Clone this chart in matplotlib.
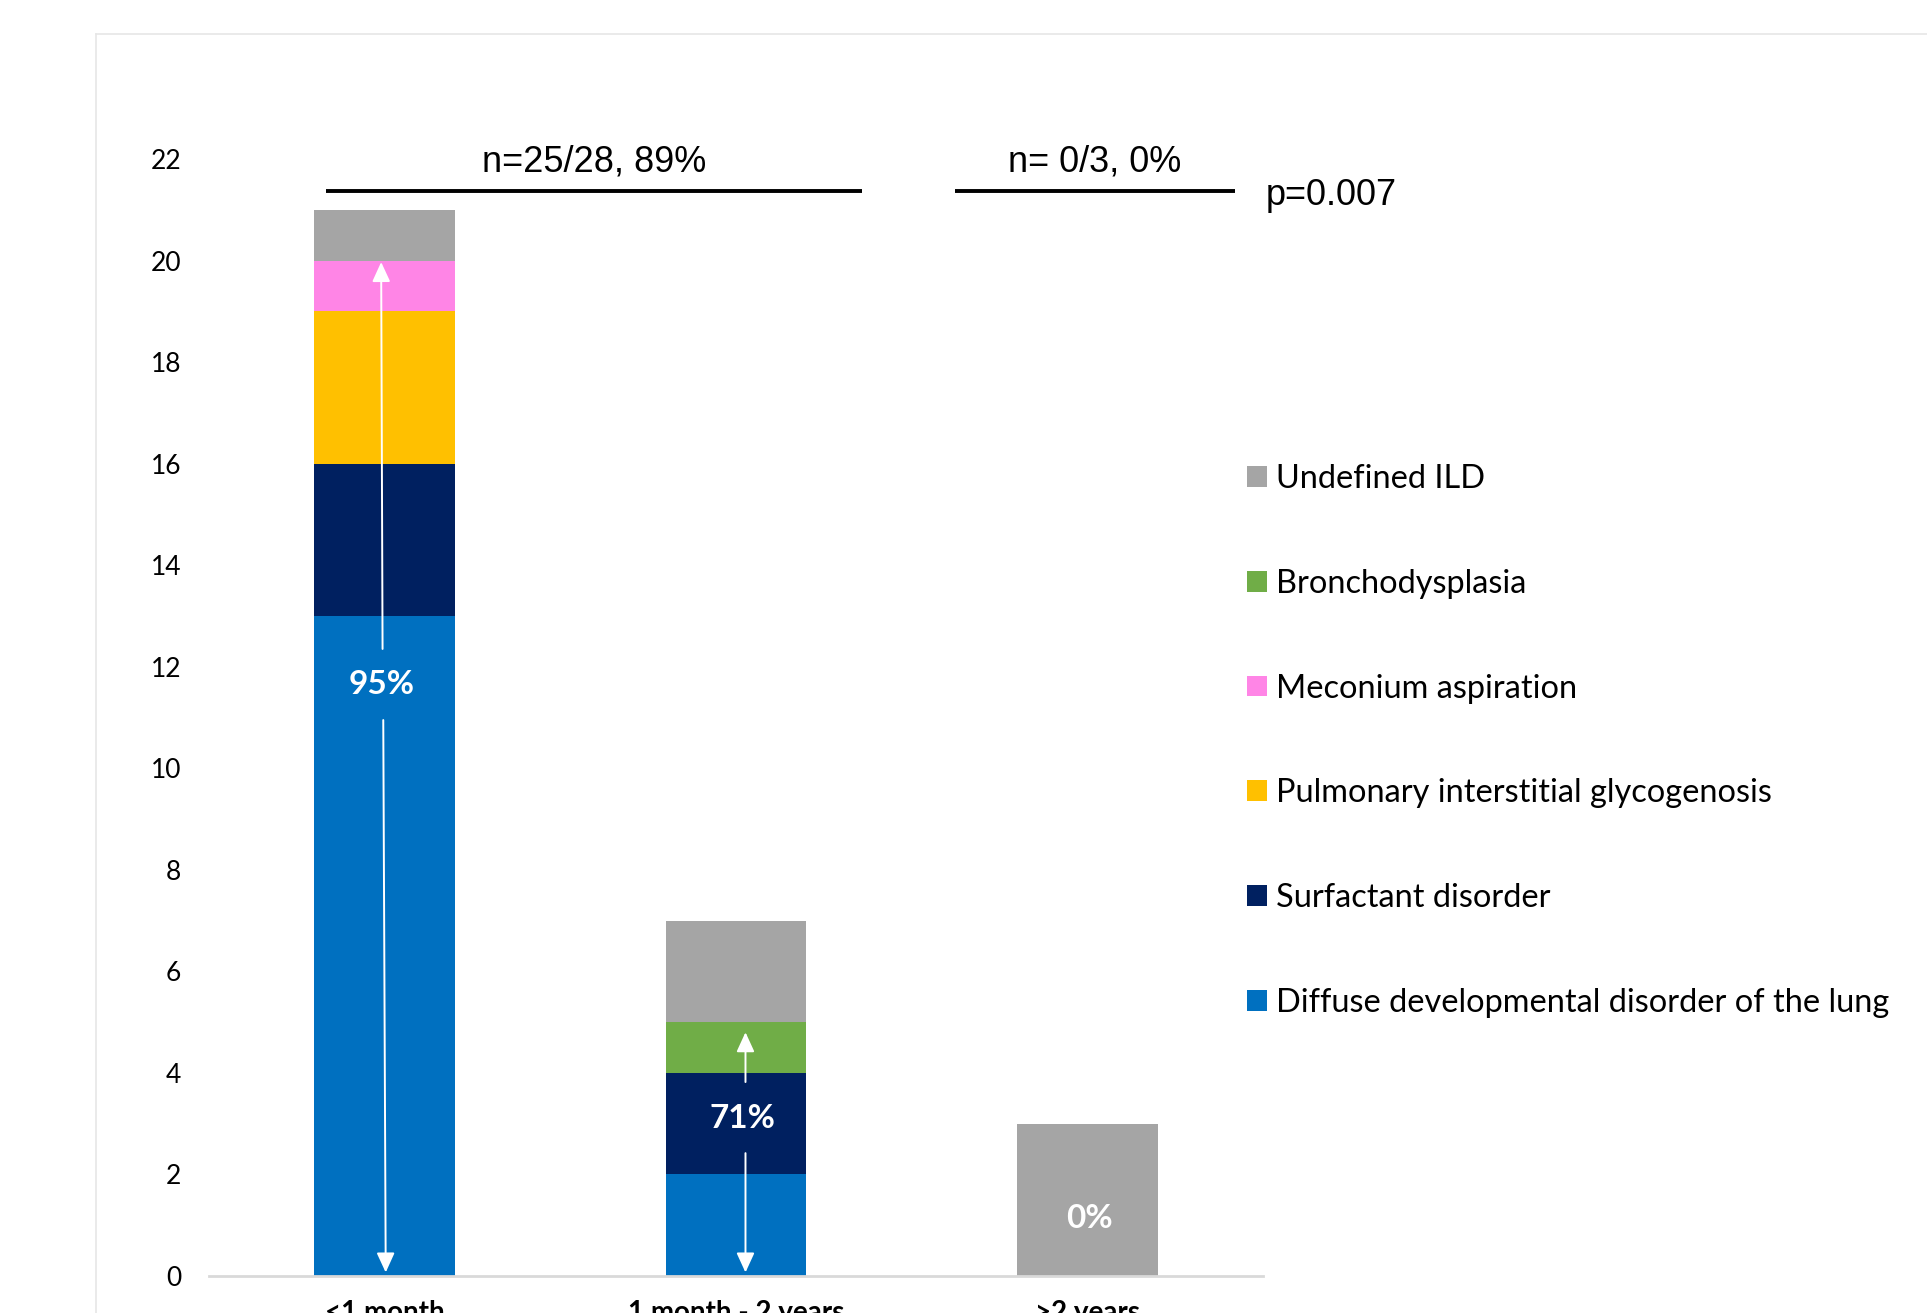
import matplotlib
matplotlib.use("Agg")
import matplotlib.pyplot as plt
from matplotlib.patches import Patch
from matplotlib.lines import Line2D
import numpy as np

categories = ["<1 month", "1 month - 2 years", ">2 years"]
series_names = ["Diffuse developmental disorder of the lung", "Surfactant disorder",
                "Pulmonary interstitial glycogenosis", "Meconium aspiration",
                "Bronchodysplasia", "Undefined ILD"]
ddd = [13, 2, 0]
surfactant = [3, 2, 0]
pig = [3, 0, 0]
meconium = [1, 0, 0]
broncho = [0, 1, 0]
undefined = [1, 2, 3]
colors = ["#0070C0", "#002060", "#FFC000", "#FF85E6", "#70AD47", "#A5A5A5"]
yticks = list(range(0, 23, 2))
bar_pct = ["95%", "71%", "0%"]
group_labels = ["n=25/28, 89%", "n= 0/3, 0%"]
p_label = "p=0.007"

fig = plt.figure(figsize=(19.27, 13.13), dpi=100)
# panel border
fig.add_artist(Line2D([96/1927, 96/1927], [0, 1 - 34/1313], transform=fig.transFigure, color="#e6e6e6", lw=1.2))
fig.add_artist(Line2D([96/1927, 1], [1 - 34/1313, 1 - 34/1313], transform=fig.transFigure, color="#e6e6e6", lw=1.2))

ax = fig.add_axes([209/1927, 37/1313, (1263-209)/1927, (1276-159)/1313])
x = np.arange(len(categories))
data = [ddd, surfactant, pig, meconium, broncho, undefined]
bottom = np.zeros(len(categories))
handles = []
for vals, name, c in zip(data, series_names, colors):
    v = np.array(vals, dtype=float)
    ax.bar(x, v, 0.4, bottom=bottom, color=c, label=name, zorder=2)
    bottom += v
    handles.append(Patch(facecolor=c, label=name))

ax.set_xlim(-0.5, 2.5)
ax.set_ylim(0, 22)
ax.set_yticks(yticks)
ax.set_yticklabels([str(t) for t in yticks], fontsize=19, family="Lato")
ax.tick_params(axis="y", length=0, pad=20)
ax.set_xticks(x)
ax.set_xticklabels(categories, fontsize=20, fontweight="bold", family="Lato")
ax.tick_params(axis="x", length=0, pad=17)
for s in ["top", "right", "left"]:
    ax.spines[s].set_visible(False)
ax.spines["bottom"].set_color("#d9d9d9")
ax.spines["bottom"].set_linewidth(2)
ax.spines["bottom"].set_zorder(3)

# arrows
def arr(x0, y0, x1, y1):
    ax.annotate("", xy=(x1, y1), xytext=(x0, y0),
                arrowprops=dict(arrowstyle="-|>,head_length=1.2,head_width=0.55", color="white", lw=1.4,
                                shrinkA=0, shrinkB=0), zorder=5)

arr(-0.006, 12.35, -0.01, 19.97)
arr(-0.004, 10.95, 0.003, 0.07)
arr(1.027, 3.82, 1.027, 4.8)
arr(1.027, 2.42, 1.027, 0.07)
ax.text(-0.01, 11.65, bar_pct[0], color="white", fontsize=24, fontweight="bold", family="Lato", ha="center", va="center", zorder=6)
ax.text(1.017, 3.1, bar_pct[1], color="white", fontsize=24, fontweight="bold", family="Lato", ha="center", va="center", zorder=6)
ax.text(2.007, 1.14, bar_pct[2], color="white", fontsize=24, fontweight="bold", family="Lato", ha="center", va="center", zorder=6)

# group lines
ax.plot([-0.168, 1.36], [21.36, 21.36], color="black", lw=2.8, clip_on=False, solid_capstyle="butt")
ax.plot([1.622, 2.42], [21.36, 21.36], color="black", lw=2.8, clip_on=False, solid_capstyle="butt")
ax.text(0.596, 21.95, group_labels[0], fontsize=26, family="Liberation Sans", ha="center", va="center")
ax.text(2.02, 21.95, group_labels[1], fontsize=26, family="Liberation Sans", ha="center", va="center")
ax.text(2.507, 21.28, p_label, fontsize=26, family="Liberation Sans", ha="left", va="center", clip_on=False)

leg = fig.legend(handles=handles[::-1], loc="upper left", bbox_to_anchor=(1247/1927, 1 - 464/1313),
                 frameon=False, prop={"family": "Lato", "size": 23.4}, handlelength=0.6, handleheight=0.6,
                 handletextpad=0.28, labelspacing=2.3, borderaxespad=0, borderpad=0)

fig.savefig("out.png", dpi=100)
